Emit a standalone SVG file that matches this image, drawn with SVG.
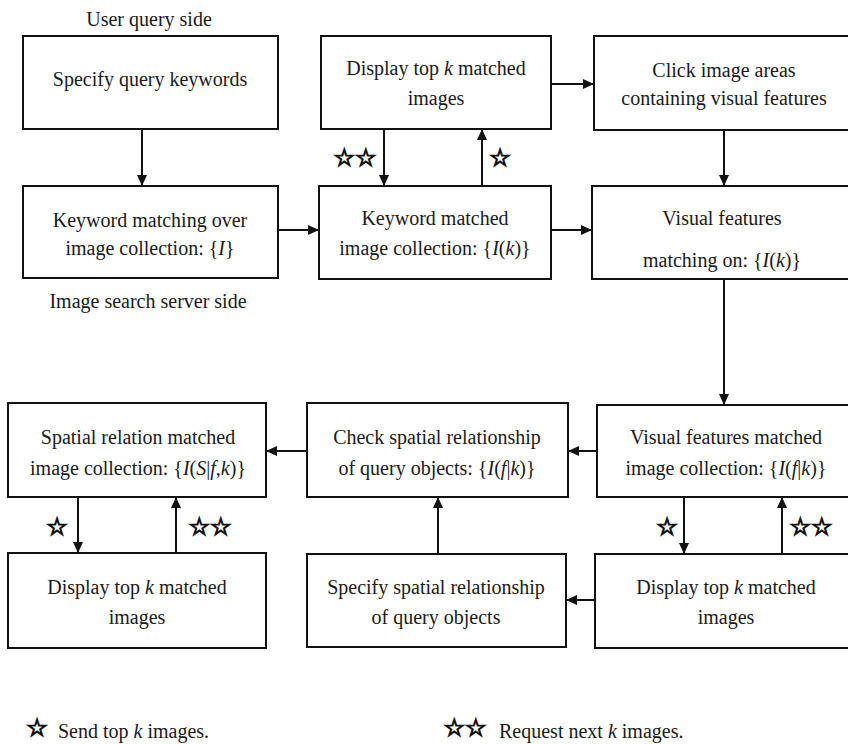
<svg xmlns="http://www.w3.org/2000/svg" width="848" height="744" viewBox="0 0 848 744">
<style>
rect.b{fill:#fff;stroke:#111;stroke-width:2}
text{font-family:"Liberation Serif","Times New Roman",serif;font-size:20px;fill:#1a1a1a;text-anchor:middle}
text.s{font-family:"DejaVu Sans",sans-serif;font-size:24px;fill:none;stroke:#111;stroke-width:1.3}
.i{font-style:italic}
line.c{stroke:#111;stroke-width:2;marker-end:url(#ah)}
</style>
<defs>
<marker id="ah" markerUnits="userSpaceOnUse" markerWidth="11" markerHeight="10" refX="11" refY="5" orient="auto">
<path d="M0,0 L11,5 L0,10 z" fill="#111"/>
</marker>
</defs>
<rect width="848" height="744" fill="#fff"/>
<text x="149" y="26">User query side</text>
<text x="148" y="308">Image search server side</text>
<g id="n1"><rect class="b" x="23" y="36" width="255" height="93"/><text x="150" y="86">Specify query keywords</text></g>
<g id="n2"><rect class="b" x="23" y="186" width="255" height="92"/><text x="150" y="227">Keyword matching over</text><text x="150" y="255">image collection: {<tspan class="i">I</tspan>}</text></g>
<g id="n3"><rect class="b" x="321" y="36" width="230" height="93"/><text x="436" y="75">Display top <tspan class="i">k</tspan> matched</text><text x="436" y="105">images</text></g>
<g id="n4"><rect class="b" x="319" y="186" width="232" height="93"/><text x="435" y="225">Keyword matched</text><text x="435" y="255">image collection: {<tspan class="i">I</tspan>(<tspan class="i">k</tspan>)}</text></g>
<g id="n5"><rect class="b" x="594" y="36" width="262" height="94"/><text x="724" y="77">Click image areas</text><text x="724" y="105">containing visual features</text></g>
<g id="n6"><rect class="b" x="592" y="186" width="264" height="93"/><text x="722" y="225">Visual features</text><text x="722" y="267">matching on: {<tspan class="i">I</tspan>(<tspan class="i">k</tspan>)}</text></g>
<g id="n7"><rect class="b" x="597" y="405" width="259" height="92"/><text x="726" y="444">Visual features matched</text><text x="726" y="475">image collection: {<tspan class="i">I</tspan>(<tspan class="i">f</tspan>|<tspan class="i">k</tspan>)}</text></g>
<g id="n8"><rect class="b" x="595" y="554" width="261" height="94"/><text x="726" y="594">Display top <tspan class="i">k</tspan> matched</text><text x="726" y="624">images</text></g>
<g id="n9"><rect class="b" x="307" y="403" width="261" height="94"/><text x="437" y="444">Check spatial relationship</text><text x="437" y="475">of query objects: {<tspan class="i">I</tspan>(<tspan class="i">f</tspan>|<tspan class="i">k</tspan>)}</text></g>
<g id="n10"><rect class="b" x="307" y="554" width="259" height="93"/><text x="436" y="594">Specify spatial relationship</text><text x="436" y="624">of query objects</text></g>
<g id="n11"><rect class="b" x="8" y="403" width="258" height="94"/><text x="138" y="444">Spatial relation matched</text><text x="138" y="475">image collection: {<tspan class="i">I</tspan>(<tspan class="i">S</tspan>|<tspan class="i">f</tspan>,<tspan class="i">k</tspan>)}</text></g>
<g id="n12"><rect class="b" x="8" y="553" width="258" height="95"/><text x="137" y="594">Display top <tspan class="i">k</tspan> matched</text><text x="137" y="624">images</text></g>
<g id="connectors">
<line class="c" x1="142" y1="129" x2="142" y2="186"/>
<line class="c" x1="278" y1="230" x2="319" y2="230"/>
<line class="c" x1="551" y1="84" x2="594" y2="84"/>
<line class="c" x1="551" y1="230" x2="592" y2="230"/>
<line class="c" x1="384" y1="129" x2="384" y2="186"/>
<line class="c" x1="482" y1="186" x2="482" y2="129"/>
<line class="c" x1="724" y1="130" x2="724" y2="186"/>
<line class="c" x1="724" y1="279" x2="724" y2="405"/>
<line class="c" x1="597" y1="451" x2="568" y2="451"/>
<line class="c" x1="307" y1="451" x2="266" y2="451"/>
<line class="c" x1="595" y1="600" x2="566" y2="600"/>
<line class="c" x1="438" y1="554" x2="438" y2="497"/>
<line class="c" x1="684" y1="497" x2="684" y2="554"/>
<line class="c" x1="782" y1="554" x2="782" y2="497"/>
<line class="c" x1="78" y1="497" x2="78" y2="553"/>
<line class="c" x1="176" y1="553" x2="176" y2="497"/>
</g>
<g id="stars">
<text class="s" x="355" y="166">☆☆</text>
<text class="s" x="500" y="166">☆</text>
<text class="s" x="667" y="535">☆</text>
<text class="s" x="811" y="535">☆☆</text>
<text class="s" x="57" y="535">☆</text>
<text class="s" x="210" y="535">☆☆</text>
</g>
<g id="legend">
<text class="s" x="37" y="736">☆</text>
<text x="58" y="738" style="text-anchor:start">Send top <tspan class="i">k</tspan> images.</text>
<text class="s" x="465" y="736">☆☆</text>
<text x="499" y="738" style="text-anchor:start">Request next <tspan class="i">k</tspan> images.</text>
</g>
</svg>
